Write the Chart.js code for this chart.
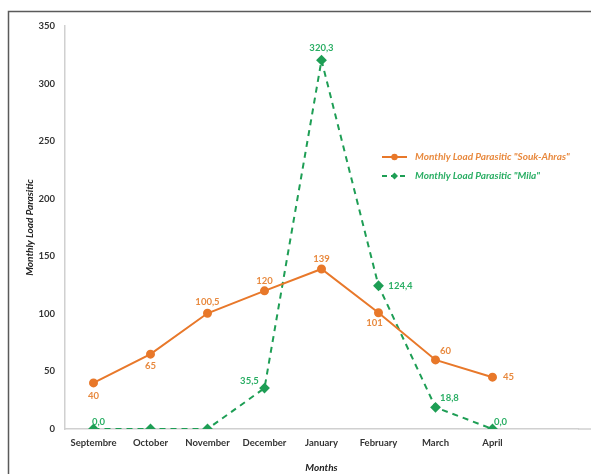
<!DOCTYPE html>
<html>
<head>
<meta charset="utf-8">
<script src="https://cdn.jsdelivr.net/npm/chart.js@4"></script>
<style>
  html, body { margin: 0; padding: 0; background: #fff; }
  #wrap { width: 591px; height: 474px; }
</style>
</head>
<body>
<div id="wrap"><canvas id="myChart" width="591" height="474"></canvas></div>
<script>
const months = ["Septembre", "October", "November", "December", "January", "February", "March", "April", ""];
const soukAhras = [40, 65, 100.5, 120, 139, 101, 60, 45];
const mila = [0, 0, 0, 35.5, 320.3, 124.4, 18.8, 0];
const yTicks = { min: 0, max: 350, step: 50 };

// where each value label sits relative to its point [dx, dy], null = no label
const soukLabelPos = [[0, 13], [0, 12], [0, -11], [0, -10], [0, -10], [-4, 10], [10, -9], [16, 0]];
const milaLabelPos = [[5, -7], null, null, [-15, -7], [0, -12], [22, 0], [14, -9], [8, -7]];

const orange = "#E8782A";
const orangeText = "#E8893E";
const green = "#1E9E55";
const greenText = "#2AAE64";

const frame = {
  id: "frame",
  beforeDraw(chart) {
    const ctx = chart.ctx;
    ctx.save();
    ctx.strokeStyle = "#5a5a5a";
    ctx.lineWidth = 1.5;
    ctx.beginPath();
    ctx.moveTo(8.5, 474);
    ctx.lineTo(8.5, 11.5);
    ctx.lineTo(591, 11.5);
    ctx.stroke();
    // x axis line carries on to the right edge like the original
    const a = chart.chartArea;
    ctx.strokeStyle = "#d0d0d0";
    ctx.beginPath();
    ctx.moveTo(a.right, a.bottom);
    ctx.lineTo(591, a.bottom);
    ctx.stroke();
    ctx.restore();
  }
};

const valueLabels = {
  id: "valueLabels",
  afterDatasetsDraw(chart) {
    const ctx = chart.ctx;
    const sets = [
      { pos: soukLabelPos, color: orangeText, fmt: v => String(v).replace(".", ",") },
      { pos: milaLabelPos, color: greenText, fmt: v => v.toFixed(1).replace(".", ",") }
    ];
    ctx.save();
    ctx.font = "bold 9.5px Lato, 'Open Sans', sans-serif";
    ctx.textAlign = "center";
    ctx.textBaseline = "middle";
    sets.forEach((s, i) => {
      const meta = chart.getDatasetMeta(i);
      const data = chart.data.datasets[i].data;
      ctx.fillStyle = s.color;
      meta.data.forEach((pt, j) => {
        const p = s.pos[j];
        if (!p) return;
        ctx.fillText(s.fmt(data[j]), pt.x + p[0], pt.y + p[1]);
      });
    });
    ctx.restore();
  }
};

const innerLegend = {
  id: "innerLegend",
  afterDraw(chart) {
    const ctx = chart.ctx;
    const items = [
      { text: 'Monthly Load Parasitic "Souk-Ahras"', color: orange, textColor: orangeText, dash: [], marker: "circle", y: 157 },
      { text: 'Monthly Load Parasitic "Mila"', color: green, textColor: greenText, dash: [5, 4], marker: "diamond", y: 176 }
    ];
    const x0 = 382;
    ctx.save();
    items.forEach(it => {
      ctx.strokeStyle = it.color;
      ctx.lineWidth = 2;
      ctx.setLineDash(it.dash);
      ctx.beginPath();
      ctx.moveTo(x0, it.y);
      ctx.lineTo(x0 + 25, it.y);
      ctx.stroke();
      ctx.setLineDash([]);
      ctx.fillStyle = it.color;
      ctx.beginPath();
      if (it.marker === "circle") {
        ctx.arc(x0 + 12.5, it.y, 3.2, 0, Math.PI * 2);
      } else {
        ctx.moveTo(x0 + 12.5, it.y - 3.5);
        ctx.lineTo(x0 + 16, it.y);
        ctx.lineTo(x0 + 12.5, it.y + 3.5);
        ctx.lineTo(x0 + 9, it.y);
        ctx.closePath();
      }
      ctx.fill();
      ctx.fillStyle = it.textColor;
      ctx.font = "italic bold 10px Lato, 'Open Sans', sans-serif";
      ctx.textAlign = "left";
      ctx.textBaseline = "middle";
      ctx.fillText(it.text, x0 + 33, it.y);
    });
    ctx.restore();
  }
};

const ctx = document.getElementById("myChart").getContext("2d");
new Chart(ctx, {
  type: "line",
  data: {
    labels: months,
    datasets: [
      {
        label: 'Monthly Load Parasitic "Souk-Ahras"',
        data: soukAhras,
        borderColor: orange,
        backgroundColor: orange,
        borderWidth: 2,
        pointRadius: 3.5,
        pointStyle: "circle",
        tension: 0
      },
      {
        label: 'Monthly Load Parasitic "Mila"',
        data: mila,
        borderColor: green,
        backgroundColor: green,
        borderWidth: 2,
        borderDash: [6, 5],
        pointRadius: 4,
        pointStyle: "rectRot",
        tension: 0
      }
    ]
  },
  options: {
    responsive: false,
    animation: false,
    layout: { padding: { top: 26, right: 13, left: 0, bottom: 0 } },
    plugins: {
      legend: { display: false },
      tooltip: { enabled: false }
    },
    scales: {
      x: {
        offset: true,
        grid: { display: false, drawTicks: false },
        border: { color: "#d0d0d0", width: 1.5 },
        ticks: {
          color: "#333",
          font: { family: "Lato, 'Open Sans', sans-serif", size: 9.5, weight: "bold" },
          padding: 8,
          maxRotation: 0,
          autoSkip: false
        },
        title: {
          display: true,
          text: "Months",
          color: "#222",
          font: { family: "Lato, 'Open Sans', sans-serif", size: 10, weight: "bold", style: "italic" },
          padding: { top: 10, bottom: 0 }
        },
        afterFit(s) { s.height = 45; }
      },
      y: {
        min: yTicks.min,
        max: yTicks.max,
        grid: { display: false, drawTicks: false },
        border: { color: "#d0d0d0", width: 1.5 },
        ticks: {
          stepSize: yTicks.step,
          color: "#333",
          font: { family: "Lato, 'Open Sans', sans-serif", size: 9.5, weight: "bold" },
          padding: 10
        },
        title: {
          display: true,
          text: "Monthly Load Parasitic",
          color: "#222",
          font: { family: "Lato, 'Open Sans', sans-serif", size: 10, weight: "bold", style: "italic" },
          padding: { top: 24, bottom: 0 }
        },
        afterFit(s) { s.width = 65; }
      }
    }
  },
  plugins: [frame, valueLabels, innerLegend]
});
</script>
</body>
</html>
